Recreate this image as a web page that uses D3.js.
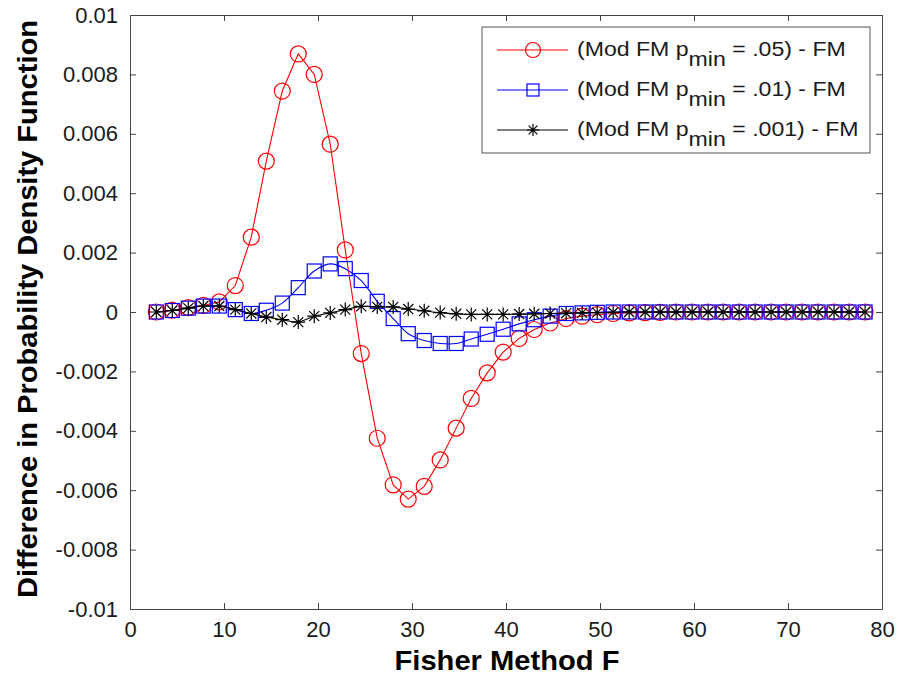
<!DOCTYPE html>
<html>
<head>
<meta charset="utf-8">
<script src="https://cdn.jsdelivr.net/npm/d3@7"></script>
<style>
  body { margin: 0; background: #fff; }
  svg { display: block; font-family: "Liberation Sans", Arial, sans-serif; }
</style>
</head>
<body>
<div class="wrapper"></div>
<script>
// F values where the markers sit
const fVals = [2.8, 4.5, 6.2, 7.8, 9.5, 11.2, 12.9, 14.5, 16.2, 17.9, 19.6, 21.3, 22.9, 24.6, 26.3, 28.0,
  29.6, 31.3, 33.0, 34.7, 36.3, 38.0, 39.7, 41.4, 43.0, 44.7, 46.4, 48.1, 49.7, 51.4, 53.1, 54.8,
  56.4, 58.1, 59.8, 61.5, 63.1, 64.8, 66.5, 68.2, 69.8, 71.5, 73.2, 74.9, 76.5, 78.2];

const diff05 = [0, 0.00006, 0.00015, 0.00022, 0.00034, 0.00089, 0.00252, 0.00508, 0.00744, 0.00869,
  0.0080, 0.00565, 0.00209, -0.0014, -0.00425, -0.00582, -0.0063, -0.00587, -0.00498, -0.00391,
  -0.00291, -0.00205, -0.00135, -0.00089, -0.00059, -0.00037, -0.00022, -0.00014, -0.00009, -0.00005,
  -0.00003, -0.00002, -0.00001, 0, 0, 0, 0, 0, 0, 0, 0, 0, 0, 0, 0, 0];

const diff01 = [0, 0.00005, 0.00013, 0.0002, 0.0002, 0.00008, -0.00005, 0.00006, 0.0003, 0.00082,
  0.00138, 0.00162, 0.00146, 0.00106, 0.00036, -0.00022, -0.00073, -0.00096, -0.00106, -0.00106,
  -0.00091, -0.00075, -0.00058, -0.0004, -0.00026, -0.00014, -0.00005, -0.00003, -0.00001, 0,
  0, 0, 0, 0, 0, 0, 0, 0, 0, 0, 0, 0, 0, 0, 0, 0];

const diff001 = [0, 0.00005, 0.00013, 0.0002, 0.0002, 0.00008, -0.00005, -0.00017, -0.00026, -0.00034,
  -0.00014, -0.00003, 0.00008, 0.00019, 0.00017, 0.00017, 0.0001, 0.00004, -0.00002, -0.00006,
  -0.00008, -0.00008, -0.00008, -0.00007, -0.00006, -0.00005, -0.00004, -0.00003, -0.00002, -0.00001,
  0, 0, 0, 0, 0, 0, 0, 0, 0, 0, 0, 0, 0, 0, 0, 0];

const seriesNames = [".05", ".01", ".001"];
const seriesColors = ["#ff0000", "#0000ff", "#000000"];
const seriesMarkers = ["circle", "square", "star"];

const xTicks = [0, 10, 20, 30, 40, 50, 60, 70, 80];
const yTicks = [-0.01, -0.008, -0.006, -0.004, -0.002, 0, 0.002, 0.004, 0.006, 0.008, 0.01];
const yTickLabels = ["-0.01", "-0.008", "-0.006", "-0.004", "-0.002", "0", "0.002", "0.004", "0.006", "0.008", "0.01"];

const width = 903, height = 677;
const plotLeft = 130, plotRight = 882, plotTop = 15, plotBottom = 609;

const svg = d3.select(".wrapper").append("svg")
  .attr("width", width)
  .attr("height", height);

const x = d3.scaleLinear().domain([0, 80]).range([plotLeft, plotRight]);
const y = d3.scaleLinear().domain([-0.01, 0.01]).range([plotBottom, plotTop]);

///////////////// AXES /////////////////
const axisColor = "#444";

function styleAxis(g, labels) {
  g.select(".domain").attr("stroke", axisColor);
  g.selectAll(".tick line").attr("stroke", axisColor);
  g.selectAll(".tick text")
    .style("font-size", "22px")
    .attr("fill", "#1a1a1a")
    .attr("font-family", "'Liberation Sans', Arial, sans-serif");
  if (!labels) g.selectAll(".tick text").remove();
}

svg.append("g")
  .attr("transform", "translate(0," + plotBottom + ")")
  .call(d3.axisBottom(x).tickValues(xTicks).tickSizeInner(-6).tickSizeOuter(0).tickPadding(12).tickFormat(d3.format("d")))
  .call(g => styleAxis(g, true));

svg.append("g")
  .attr("transform", "translate(0," + plotTop + ")")
  .call(d3.axisTop(x).tickValues(xTicks).tickSizeInner(-6).tickSizeOuter(0))
  .call(g => styleAxis(g, false));

svg.append("g")
  .attr("transform", "translate(" + plotLeft + ",0)")
  .call(d3.axisLeft(y).tickValues(yTicks).tickSizeInner(-6).tickSizeOuter(0).tickPadding(12)
    .tickFormat((d, i) => yTickLabels[i]))
  .call(g => styleAxis(g, true));

svg.append("g")
  .attr("transform", "translate(" + plotRight + ",0)")
  .call(d3.axisRight(y).tickValues(yTicks).tickSizeInner(-6).tickSizeOuter(0))
  .call(g => styleAxis(g, false));

// axis titles
svg.append("text")
  .attr("x", 507)
  .attr("y", 670)
  .attr("text-anchor", "middle")
  .attr("textLength", 225)
  .attr("lengthAdjust", "spacingAndGlyphs")
  .style("font-size", "27px")
  .style("font-weight", "bold")
  .text("Fisher Method F");

svg.append("text")
  .attr("transform", "translate(37,309) rotate(-90)")
  .attr("text-anchor", "middle")
  .attr("textLength", 578)
  .attr("lengthAdjust", "spacingAndGlyphs")
  .style("font-size", "28px")
  .style("font-weight", "bold")
  .text("Difference in Probability Density Function");

///////////////// SERIES /////////////////
const seriesData = [diff05, diff01, diff001].map((vals, k) => ({
  name: seriesNames[k],
  color: seriesColors[k],
  marker: seriesMarkers[k],
  curve: k === 0 ? d3.curveLinear : d3.curveCatmullRom,
  points: vals.map((v, i) => ({ f: fVals[i], v: v }))
}));

function drawMarker(g, type, color, size) {
  if (type === "circle") {
    g.append("circle").attr("r", size / 2).attr("fill", "none").attr("stroke", color).attr("stroke-width", 1.2);
  } else if (type === "square") {
    g.append("rect").attr("x", -size / 2).attr("y", -size / 2).attr("width", size).attr("height", size)
      .attr("fill", "none").attr("stroke", color).attr("stroke-width", 1.2);
  } else {
    const r = size / 2, d = r * 0.72;
    const p = "M" + -r + ",0H" + r + "M0," + -r + "V" + r +
      "M" + -d + "," + -d + "L" + d + "," + d + "M" + -d + "," + d + "L" + d + "," + -d;
    g.append("path").attr("d", p).attr("stroke", color).attr("stroke-width", 1.2).attr("fill", "none");
  }
}

const plot = svg.append("g").attr("class", "series");

seriesData.forEach(s => {
  const line = d3.line().x(d => x(d.f)).y(d => y(d.v)).curve(s.curve);
  plot.append("path")
    .datum(s.points)
    .attr("d", line)
    .attr("fill", "none")
    .attr("stroke", s.color)
    .attr("stroke-width", 1.1);

  plot.selectAll(null)
    .data(s.points)
    .enter()
    .append("g")
    .attr("transform", d => "translate(" + x(d.f) + "," + y(d.v) + ")")
    .each(function () { drawMarker(d3.select(this), s.marker, s.color, s.marker === "circle" ? 16 : 14); });
});

///////////////// LEGEND /////////////////
const legend = svg.append("g").attr("class", "legend");
legend.append("rect")
  .attr("x", 482).attr("y", 27)
  .attr("width", 388).attr("height", 126)
  .attr("fill", "#fff")
  .attr("stroke", "#555")
  .attr("stroke-width", 1);

seriesData.forEach((s, i) => {
  const ly = 50 + i * 40;
  const row = legend.append("g").attr("transform", "translate(0," + ly + ")");
  row.append("line").attr("x1", 497).attr("x2", 568).attr("y1", 0).attr("y2", 0)
    .attr("stroke", s.color).attr("stroke-width", 1.1);
  const m = row.append("g").attr("transform", "translate(533,0)");
  drawMarker(m, s.marker, s.color, s.marker === "circle" ? 15 : 12);

  // text is a little wider than Arial in the original, stretch it
  const t = row.append("text")
    .attr("transform", "translate(577,6) scale(1.1,1)")
    .style("font-size", "21px")
    .attr("fill", "#1a1a1a");
  t.append("tspan").text("(Mod FM p");
  t.append("tspan").attr("dy", 10).text("min");
  t.append("tspan").attr("dy", -10).text("\u00a0= " + s.name + ") - FM");
});
</script>
</body>
</html>
